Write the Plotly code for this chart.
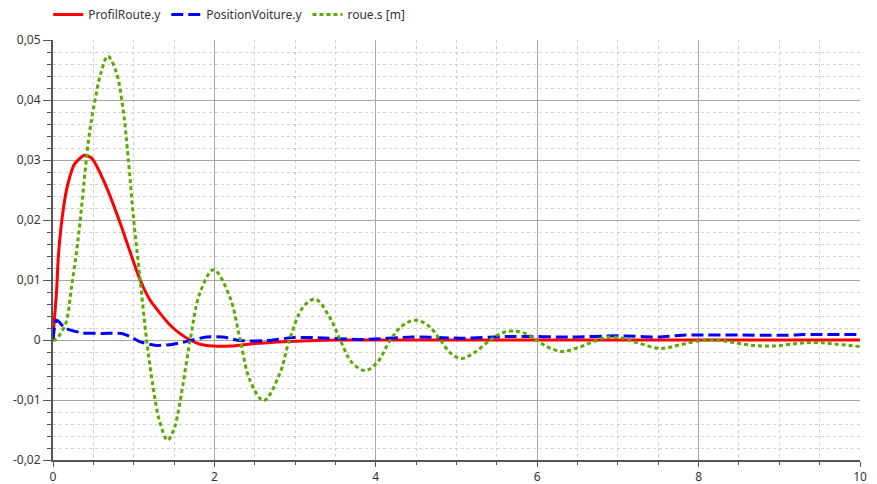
import plotly.graph_objects as go

# ProfilRoute.y
red_x = [0, 0.01, 0.045, 0.066, 0.11, 0.17, 0.27, 0.39, 0.48, 0.64, 0.83, 0.95, 1.08, 1.2,
         1.33, 1.45, 1.57, 1.7, 1.82, 1.98, 2.2, 2.5, 3.0, 3.5, 5.0, 7.0, 10.0]
red_y = [0, 0.0022, 0.0083, 0.0139, 0.02, 0.0252, 0.0294, 0.0308, 0.0303, 0.0262, 0.0196,
         0.0149, 0.01, 0.0067, 0.0044, 0.0025, 0.0011, 0.0, -0.0007, -0.001, -0.001, -0.0006,
         -0.0002, 0.0, 0.0, 0.0, 0.0]

# PositionVoiture.y
blue_x = [0, 0.045, 0.15, 0.36, 0.6, 0.85, 0.95, 1.08, 1.28, 1.49, 1.7, 1.9, 2.1, 2.32, 2.65,
          2.98, 3.22, 3.84, 4.46, 5.08, 5.7, 6.44, 7.0, 7.5, 7.8, 9.1, 9.3, 10.0]
blue_y = [0, 0.0033, 0.002, 0.0012, 0.0011, 0.0011, 0.0006, -0.0003, -0.0009, -0.0007,
          -0.0001, 0.0005, 0.0005, -0.0001, -0.0001, 0.0004, 0.0004, 0.0001, 0.0005, 0.0003, 0.0006,
          0.0005, 0.0007, 0.0005, 0.0008, 0.0008, 0.0009, 0.0009]

# roue.s [m]
green_x = [0, 0.025, 0.15, 0.23, 0.31, 0.375, 0.44, 0.5, 0.6, 0.68, 0.78, 0.87, 0.93, 1.0, 1.08,
           1.16, 1.24, 1.32, 1.42, 1.5, 1.57, 1.7, 1.82, 1.99, 2.19, 2.32, 2.44, 2.61, 2.81, 2.93,
           3.1, 3.25, 3.42, 3.56, 3.7, 3.87, 4.02, 4.18, 4.33, 4.49, 4.65, 4.8, 4.92, 5.06, 5.22,
           5.42, 5.55, 5.7, 5.85, 5.99, 6.15, 6.32, 6.5, 6.69, 6.86, 7.03, 7.23, 7.52, 7.77, 8.02,
           8.22, 8.43, 8.68, 8.93, 9.21, 9.42, 9.63, 10.0]
green_y = [0, 0.0, 0.0025, 0.0089, 0.0167, 0.025, 0.0333, 0.0385, 0.0448, 0.0473, 0.0448, 0.0383,
           0.0306, 0.02, 0.01, 0.0, -0.0078, -0.0135, -0.0167, -0.0148, -0.0106, 0.0, 0.0078,
           0.0117, 0.0072, 0.0, -0.0067, -0.0101, -0.0056, 0.0, 0.0055, 0.0068, 0.0040, 0.0,
           -0.0037, -0.0051, -0.0037, 0.0, 0.0024, 0.0033, 0.0024, 0.0, -0.0021, -0.0031, -0.0021,
           0.0, 0.0011, 0.0015, 0.0011, 0.0, -0.0013, -0.0019, -0.0013, -0.0003, 0.00045, 0.0004,
           -0.0004, -0.0014, -0.0008, -0.0001, 0.0, -0.0004, -0.0009, -0.001, -0.0006, -0.0004,
           -0.0006, -0.0011]

y_tickvals = [0.05, 0.04, 0.03, 0.02, 0.01, 0, -0.01, -0.02]
y_ticktext = ["0,05", "0,04", "0,03", "0,02", "0,01", "0", "-0,01", "-0,02"]
x_tickvals = [0, 2, 4, 6, 8, 10]
x_ticktext = ["0", "2", "4", "6", "8", "10"]

fig = go.Figure()
fig.add_trace(go.Scatter(x=red_x, y=red_y, name="ProfilRoute.y", mode="lines",
                         line=dict(color="#ff0000", width=3, shape="spline", smoothing=0.6)))
fig.add_trace(go.Scatter(x=blue_x, y=blue_y, name="PositionVoiture.y", mode="lines",
                         line=dict(color="#0000ff", width=3, dash="12px,5px", shape="spline", smoothing=0.7)))
fig.add_trace(go.Scatter(x=green_x, y=green_y, name="roue.s [m]", mode="lines",
                         line=dict(color="#5aaa00", width=3, dash="4px,3px", shape="spline", smoothing=1.0)))

grid_major = "#a8a8a8"
grid_minor = "#d0d0d0"
axis_col = "#555555"

fig.update_layout(
    width=877, height=484,
    margin=dict(l=53, r=17, t=40, b=24, autoexpand=False),
    paper_bgcolor="white", plot_bgcolor="white",
    font=dict(family="Noto Sans", size=12, color="#333333"),
    showlegend=True,
    legend=dict(orientation="h", xref="container", yref="container", x=0.055, y=1.0,
                xanchor="left", yanchor="top", font=dict(size=12, color="#333333"),
                itemwidth=30, bgcolor="rgba(0,0,0,0)"),
    xaxis=dict(range=[0, 10], tickvals=x_tickvals, ticktext=x_ticktext, automargin=False,
               showgrid=True, gridcolor=grid_major, gridwidth=1,
               showline=True, linecolor=axis_col, linewidth=2,
               ticks="outside", ticklen=5, tickcolor=axis_col, tickwidth=1,
               zeroline=False,
               minor=dict(dtick=0.5, tick0=0, showgrid=True, gridcolor=grid_minor, griddash="dot",
                          gridwidth=1, ticks="outside", ticklen=3, tickcolor=axis_col)),
    yaxis=dict(range=[-0.02, 0.05], tickvals=y_tickvals, ticktext=y_ticktext, automargin=False,
               showgrid=True, gridcolor=grid_major, gridwidth=1,
               showline=True, linecolor=axis_col, linewidth=2,
               ticks="outside", ticklen=8, tickcolor=axis_col, tickwidth=1,
               zeroline=False,
               minor=dict(dtick=0.002, tick0=0, showgrid=True, gridcolor=grid_minor, griddash="dot",
                          gridwidth=1, ticks="outside", ticklen=4, tickcolor=axis_col)),
)

fig.write_html("out.html", config={"displayModeBar": False},
               post_script="document.body.style.margin='0';document.body.style.overflow='hidden';")
